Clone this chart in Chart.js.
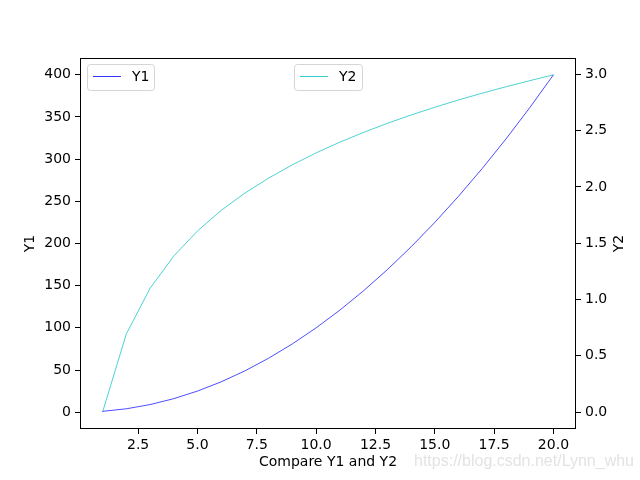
<!DOCTYPE html>
<html>
<head>
<meta charset="utf-8">
<script src="https://cdn.jsdelivr.net/npm/chart.js@4/dist/chart.umd.min.js"></script>
<style>
    html, body { margin: 0; padding: 0; background: #fff; }
    #wrap { width: 640px; height: 480px; }
</style>
</head>
<body>
<div id="wrap"><canvas id="compareChart" width="640" height="480"></canvas></div>
<script>
// Chart data
const xValues = [1, 2, 3, 4, 5, 6, 7, 8, 9, 10, 11, 12, 13, 14, 15, 16, 17, 18, 19, 20];
const y1Values = [1, 4, 9, 16, 25, 36, 49, 64, 81, 100, 121, 144, 169, 196, 225, 256, 289, 324, 361, 400];
const y2Values = [0, 0.693, 1.099, 1.386, 1.609, 1.792, 1.946, 2.079, 2.197, 2.303,
                  2.398, 2.485, 2.565, 2.639, 2.708, 2.773, 2.833, 2.890, 2.944, 2.996];
const xTicks = [2.5, 5, 7.5, 10, 12.5, 15, 17.5, 20];
const y1Ticks = [0, 50, 100, 150, 200, 250, 300, 350, 400];
const y2Ticks = [0, 0.5, 1, 1.5, 2, 2.5, 3];

const FONT = 'DejaVu Sans';

function fixedTicks(list) {
    return scale => { scale.ticks = list.map(v => ({ value: v })); };
}

const tickStyle = {
    display: true,
    drawOnChartArea: false,
    drawTicks: true,
    tickLength: 5,
    tickWidth: 1,
    tickColor: '#000'
};

// Frame, legends, axis titles and watermark
const decorPlugin = {
    id: 'decor',
    afterDraw(chart) {
        const ctx = chart.ctx;
        const a = chart.chartArea;
        ctx.save();
        ctx.strokeStyle = '#000';
        ctx.lineWidth = 1;
        ctx.strokeRect(a.left + 0.5, a.top + 0.5, a.right - a.left - 1, a.bottom - a.top - 1);

        function legendBox(x, y, w, h, color, label) {
            ctx.beginPath();
            ctx.roundRect(x + 0.5, y + 0.5, w, h, 3);
            ctx.fillStyle = 'rgba(255,255,255,0.8)';
            ctx.fill();
            ctx.strokeStyle = '#d5d5d5';
            ctx.lineWidth = 1;
            ctx.stroke();
            ctx.beginPath();
            ctx.moveTo(x + 6, y + 12.5);
            ctx.lineTo(x + 34, y + 12.5);
            ctx.strokeStyle = color;
            ctx.lineWidth = 0.8;
            ctx.stroke();
            ctx.fillStyle = '#000';
            ctx.font = '14px "' + FONT + '"';
            ctx.textBaseline = 'middle';
            ctx.textAlign = 'left';
            ctx.fillText(label, x + 45, y + 13);
        }
        legendBox(87, 64, 67, 26, chart.data.datasets[0].borderColor, chart.data.datasets[0].label);
        legendBox(294, 64, 68, 26, chart.data.datasets[1].borderColor, chart.data.datasets[1].label);

        ctx.fillStyle = '#000';
        ctx.font = '14px "' + FONT + '"';
        ctx.textAlign = 'center';
        ctx.textBaseline = 'middle';
        ctx.fillText('Compare Y1 and Y2', (a.left + a.right) / 2, 462);

        ctx.save();
        ctx.translate(30, (a.top + a.bottom) / 2);
        ctx.rotate(-Math.PI / 2);
        ctx.fillText('Y1', 0, 0);
        ctx.restore();

        ctx.save();
        ctx.translate(619, (a.top + a.bottom) / 2);
        ctx.rotate(-Math.PI / 2);
        ctx.fillText('Y2', 0, 0);
        ctx.restore();

        ctx.fillStyle = '#e3e3e3';
        ctx.font = '16px "Liberation Sans"';
        ctx.textAlign = 'left';
        ctx.fillText('https://blog.csdn.net/Lynn_whu', 414, 462);
        ctx.restore();
    }
};

new Chart(document.getElementById('compareChart'), {
    type: 'line',
    data: {
        datasets: [{
            label: 'Y1',
            data: xValues.map((x, i) => ({ x: x, y: y1Values[i] })),
            borderColor: '#0000ff',
            borderWidth: 0.7,
            pointRadius: 0,
            tension: 0,
            yAxisID: 'y1'
        }, {
            label: 'Y2',
            data: xValues.map((x, i) => ({ x: x, y: y2Values[i] })),
            borderColor: '#00bfbf',
            borderWidth: 0.7,
            pointRadius: 0,
            tension: 0,
            yAxisID: 'y2'
        }]
    },
    options: {
        responsive: false,
        animation: false,
        devicePixelRatio: 1,
        layout: { padding: { top: 58, left: 0, right: 0, bottom: 0 } },
        plugins: {
            legend: { display: false },
            tooltip: { enabled: false }
        },
        scales: {
            x: {
                type: 'linear',
                min: 0.05,
                max: 20.95,
                afterBuildTicks: fixedTicks(xTicks),
                afterFit: scale => { scale.height = 51; },
                grid: tickStyle,
                border: { display: false },
                ticks: {
                    color: '#000',
                    font: { family: FONT, size: 14 },
                    padding: 3,
                    maxRotation: 0,
                    autoSkip: false,
                    callback: v => v.toFixed(1)
                }
            },
            y1: {
                type: 'linear',
                position: 'left',
                min: -19.95,
                max: 419.95,
                afterBuildTicks: fixedTicks(y1Ticks),
                afterFit: scale => { scale.width = 80; },
                grid: tickStyle,
                border: { display: false },
                ticks: {
                    color: '#000',
                    font: { family: FONT, size: 14 },
                    padding: 4,
                    autoSkip: false,
                    callback: v => String(v)
                }
            },
            y2: {
                type: 'linear',
                position: 'right',
                min: -0.1498,
                max: 3.1455,
                afterBuildTicks: fixedTicks(y2Ticks),
                afterFit: scale => { scale.width = 64; },
                grid: tickStyle,
                border: { display: false },
                ticks: {
                    color: '#000',
                    font: { family: FONT, size: 14 },
                    padding: 4,
                    autoSkip: false,
                    callback: v => v.toFixed(1)
                }
            }
        }
    },
    plugins: [decorPlugin]
});
</script>
</body>
</html>
